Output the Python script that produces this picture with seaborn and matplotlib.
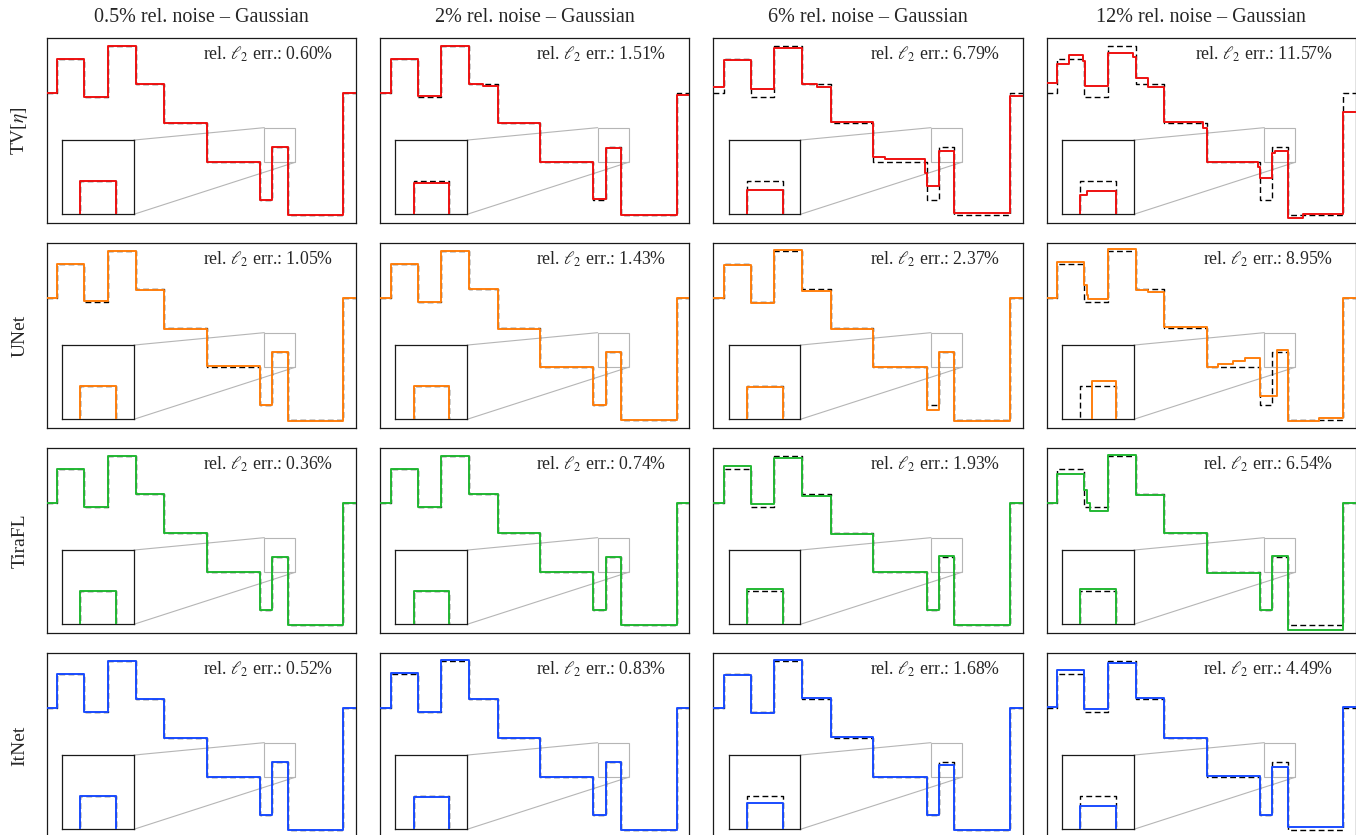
import matplotlib
matplotlib.use("Agg")
import matplotlib.pyplot as plt
import pandas as pd
import seaborn as sns
from matplotlib.patches import Rectangle, ConnectionPatch

sns.set_theme(style="white")
plt.rcParams["font.family"] = ["Liberation Serif", "DejaVu Serif"]
plt.rcParams["mathtext.fontset"] = "stix"

# ---- labels -------------------------------------------------------------
noise_titles = ["0.5% rel. noise \u2013 Gaussian", "2% rel. noise \u2013 Gaussian",
                "6% rel. noise \u2013 Gaussian", "12% rel. noise \u2013 Gaussian"]
method_names = [r"TV[$\eta$]", "UNet", "TiraFL", "ItNet"]
method_colors = ["#ee1111", "#ff7f0e", "#22b833", "#1a4cff"]

# relative l2 errors (%) per method, columns = noise level
tv_err = [0.60, 1.51, 6.79, 11.57]
unet_err = [1.05, 1.43, 2.37, 8.95]
tirafl_err = [0.36, 0.74, 1.93, 6.54]
itnet_err = [0.52, 0.83, 1.68, 4.49]

# ---- ground-truth piecewise constant signal (step starts and levels) ----
edges = [0.0, 0.0345, 0.1218, 0.1972, 0.2877, 0.3804, 0.5172, 0.6897, 0.7295, 0.7791, 0.9591]
truth = [0.7235, 0.9255, 0.700, 1.0, 0.7725, 0.543, 0.3176, 0.092, 0.406, 0.0, 0.7196]

# ---- reconstructions (step starts, levels) -------------------------------
tv_05_x = edges
tv_05_y = [0.7235, 0.9255, 0.700, 1.0, 0.7725, 0.543, 0.3176, 0.092, 0.405, 0.0, 0.7196]
tv_2_x = [0.0, 0.0345, 0.1218, 0.1972, 0.2877, 0.334, 0.3804, 0.5172, 0.6897, 0.7295, 0.7791, 0.9591]
tv_2_y = [0.7235, 0.9255, 0.704, 1.0, 0.7725, 0.7627, 0.543, 0.3176, 0.0961, 0.400, 0.0039, 0.7098]
tv_6_x = [0.0, 0.0345, 0.1218, 0.1972, 0.2877, 0.334, 0.3804, 0.5172, 0.555, 0.6843, 0.6897,
          0.7295, 0.7791, 0.9591]
tv_6_y = [0.7549, 0.9196, 0.7431, 0.9902, 0.7725, 0.7588, 0.549, 0.347, 0.3333, 0.25, 0.1706,
          0.3804, 0.0157, 0.7039]
tv_12_x = [0.0, 0.0345, 0.0733, 0.1164, 0.1239, 0.1972, 0.2802, 0.2877, 0.3287, 0.3804, 0.5065,
           0.5172, 0.6843, 0.6897, 0.7295, 0.7388, 0.7791, 0.8297, 0.9591]
tv_12_y = [0.7824, 0.896, 0.949, 0.91, 0.7627, 0.9608, 0.935, 0.8078, 0.7549, 0.549, 0.5137,
           0.3176, 0.2882, 0.2235, 0.368, 0.379, -0.0157, 0.0098, 0.6078]

unet_05_x = edges
unet_05_y = [0.7235, 0.923, 0.703, 0.997, 0.7705, 0.541, 0.319, 0.088, 0.404, -0.002, 0.7196]
unet_2_x = edges
unet_2_y = [0.7235, 0.923, 0.698, 1.0, 0.7725, 0.540, 0.315, 0.090, 0.404, 0.0, 0.7196]
unet_6_x = edges
unet_6_y = [0.7235, 0.9196, 0.690, 1.004, 0.7647, 0.539, 0.3137, 0.0627, 0.402, -0.0059, 0.7235]
unet_12_x = [0.0, 0.0345, 0.1218, 0.1293, 0.1347, 0.1972, 0.2877, 0.3287, 0.3804, 0.5172, 0.555,
             0.6034, 0.64, 0.6897, 0.7457, 0.7791, 0.88, 0.9591]
unet_12_y = [0.7235, 0.935, 0.80, 0.74, 0.715, 1.01, 0.7686, 0.7588, 0.5529, 0.3176, 0.335,
             0.35, 0.367, 0.1412, 0.418, -0.005, 0.012, 0.7235]

tirafl_05_x = edges
tirafl_05_y = [0.7235, 0.9255, 0.700, 1.0, 0.7725, 0.543, 0.3176, 0.092, 0.406, 0.0, 0.7196]
tirafl_2_x = edges
tirafl_2_y = [0.7235, 0.9216, 0.700, 1.0, 0.7725, 0.543, 0.3176, 0.092, 0.406, 0.0, 0.7235]
tirafl_6_x = edges
tirafl_6_y = [0.7235, 0.943, 0.7157, 0.9902, 0.7627, 0.5373, 0.3176, 0.0922, 0.4098, 0.0, 0.7235]
tirafl_12_x = [0.0, 0.0345, 0.1218, 0.130, 0.140, 0.1972, 0.2877, 0.3804, 0.5172, 0.6897, 0.7295,
               0.7791, 0.9591]
tirafl_12_y = [0.7235, 0.896, 0.80, 0.72, 0.6765, 1.0039, 0.7686, 0.5431, 0.3118, 0.0922, 0.4098,
               -0.0255, 0.7235]

itnet_05_x = edges
itnet_05_y = [0.7235, 0.9255, 0.700, 1.0, 0.7725, 0.543, 0.3176, 0.092, 0.406, 0.0, 0.7196]
itnet_2_x = edges
itnet_2_y = [0.7235, 0.930, 0.698, 1.003, 0.7725, 0.543, 0.3176, 0.092, 0.403, 0.0, 0.7235]
itnet_6_x = edges
itnet_6_y = [0.7235, 0.9196, 0.6941, 1.0078, 0.7784, 0.5529, 0.3176, 0.0922, 0.3863, 0.0039, 0.7235]
itnet_12_x = edges
itnet_12_y = [0.7294, 0.945, 0.7137, 0.9902, 0.7784, 0.547, 0.3235, 0.0922, 0.3765, 0.0176, 0.7255]

recons = [
    [(tv_05_x, tv_05_y), (tv_2_x, tv_2_y), (tv_6_x, tv_6_y), (tv_12_x, tv_12_y)],
    [(unet_05_x, unet_05_y), (unet_2_x, unet_2_y), (unet_6_x, unet_6_y), (unet_12_x, unet_12_y)],
    [(tirafl_05_x, tirafl_05_y), (tirafl_2_x, tirafl_2_y), (tirafl_6_x, tirafl_6_y),
     (tirafl_12_x, tirafl_12_y)],
    [(itnet_05_x, itnet_05_y), (itnet_2_x, itnet_2_y), (itnet_6_x, itnet_6_y), (itnet_12_x, itnet_12_y)],
]
errors = [tv_err, unet_err, tirafl_err, itnet_err]

# zoom window of the inset
zoom_x = (0.7037, 0.8039)
zoom_y = (0.3137, 0.5176)

# ---- layout in pixels ---------------------------------------------------
W, H = 1356, 835
col_left = [46.7, 380.0, 713.3, 1046.7]
row_top = [38.3, 243.3, 448.3, 653.3]
ax_w, ax_h = 309.3, 184.7


def step_frame(xs, ys):
    return pd.DataFrame({"x": list(xs) + [1.0], "y": list(ys) + [ys[-1]]})


def draw(ax, xs, ys, color, lw, ls="-", z=2):
    sns.lineplot(data=step_frame(xs, ys), x="x", y="y", ax=ax, color=color, lw=lw,
                 linestyle=ls, drawstyle="steps-post", estimator=None, sort=False,
                 zorder=z)
    ax.set(xlabel=None, ylabel=None, xticks=[], yticks=[])


fig = plt.figure(figsize=(W / 100, H / 100), dpi=100)
dash = (0, (4.2, 2.4))

for r in range(4):
    for c in range(4):
        ax = fig.add_axes([col_left[c] / W, 1 - (row_top[r] + ax_h) / H, ax_w / W, ax_h / H])
        xs, ys = recons[r][c]
        draw(ax, edges, truth, "black", 1.0, dash, 2)
        draw(ax, xs, ys, method_colors[r], 1.4, "-", 3)
        ax.set_xlim(0, 1)
        ax.set_ylim(-0.045, 1.045)
        for s in ax.spines.values():
            s.set_color("#1a1a1a")
            s.set_linewidth(0.9)
        ax.text(1 - 22.7 / ax_w, 1 - 15.7 / ax_h,
                r"rel. $\ell_2$ err.: " + f"{errors[r][c]:.2f}%",
                transform=ax.transAxes, ha="right", va="center", fontsize=12.8)

        # inset with magnified bump
        axins = ax.inset_axes([0.0495, 0.047, 0.232, 0.402])
        draw(axins, edges, truth, "black", 1.0, dash, 2)
        draw(axins, xs, ys, method_colors[r], 1.4, "-", 3)
        axins.set_xlim(*zoom_x)
        axins.set_ylim(*zoom_y)
        axins.set_facecolor("white")
        for s in axins.spines.values():
            s.set_color("#1a1a1a")
            s.set_linewidth(0.9)

        ax.add_patch(Rectangle((zoom_x[0], zoom_y[0]), zoom_x[1] - zoom_x[0],
                               zoom_y[1] - zoom_y[0], fill=False, edgecolor="#b5b5b5",
                               lw=0.8, zorder=1))
        for pa, pb in [((zoom_x[0], zoom_y[1]), (1, 1)), ((zoom_x[1], zoom_y[0]), (1, 0))]:
            con = ConnectionPatch(xyA=pa, coordsA=ax.transData, xyB=pb,
                                  coordsB=axins.transAxes, color="#b5b5b5", lw=0.8, zorder=1)
            ax.add_artist(con)

        if r == 0:
            fig.text((col_left[c] + ax_w / 2) / W, 1 - 17 / H, noise_titles[c],
                     ha="center", va="center", fontsize=14.5)
    fig.text(20 / W, 1 - (row_top[r] + ax_h / 2) / H, method_names[r], rotation=90,
             ha="center", va="center", fontsize=14)

fig.savefig("out.png", dpi=100)
